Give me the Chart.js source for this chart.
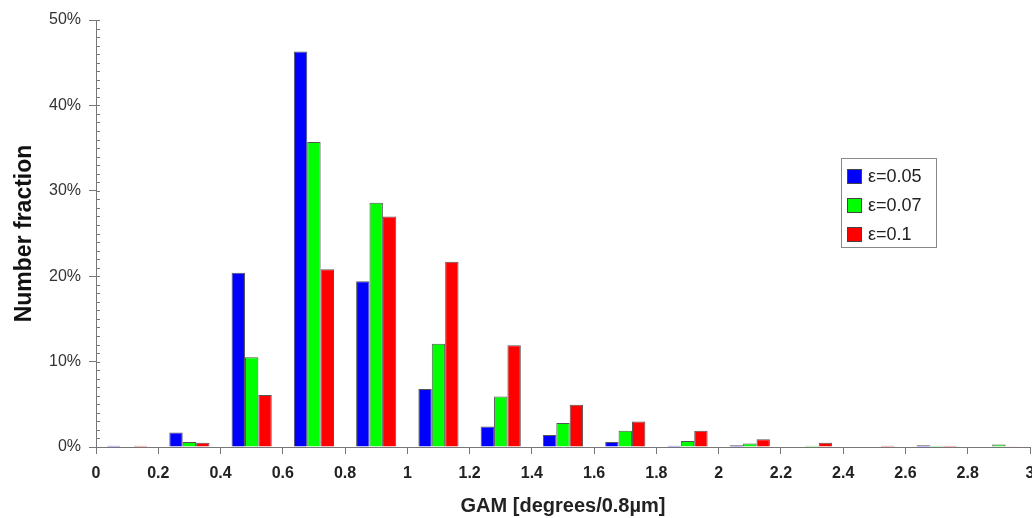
<!DOCTYPE html>
<html>
<head>
<meta charset="utf-8">
<script src="https://cdn.jsdelivr.net/npm/chart.js@4.4.1/dist/chart.umd.min.js"></script>
<style>
    body { margin: 0; background: #fff; }
    #wrap { width: 1032px; height: 518px; position: relative; }
</style>
</head>
<body>
<div id="wrap"><canvas id="chart"></canvas></div>
<script>
// bin centres (GAM, degrees/0.8um) and number fraction in %
var binCentres = [0.1, 0.3, 0.5, 0.7, 0.9, 1.1, 1.3, 1.5, 1.7, 1.9, 2.1, 2.3, 2.5, 2.7, 2.9];
var eps005 = [0.15, 1.7, 20.4, 46.3, 19.4, 6.8, 2.4, 1.4, 0.6, 0.15, 0.2, 0, 0, 0.2, 0];
var eps007 = [0, 0.6, 10.5, 35.7, 28.6, 12.1, 5.9, 2.8, 1.9, 0.7, 0.4, 0.15, 0, 0.15, 0.3];
var eps01 = [0.15, 0.5, 6.1, 20.8, 27.0, 21.7, 11.9, 4.95, 3.0, 1.9, 0.9, 0.5, 0.15, 0.15, 0.1];
var seriesLabels = ['ε=0.05', 'ε=0.07', 'ε=0.1'];
var xTicks = [0, 0.2, 0.4, 0.6, 0.8, 1, 1.2, 1.4, 1.6, 1.8, 2, 2.2, 2.4, 2.6, 2.8, 3];
var yTicks = [0, 10, 20, 30, 40, 50];

var font = "'Liberation Sans', Arial, sans-serif";

function points(values) {
    return binCentres.map(function(x, i) { return { x: x, y: values[i] }; });
}

// minor ticks on y axis (1% steps), drawn inside the plot
var axisExtras = {
    id: 'axisExtras',
    afterDraw: function(chart) {
        var ctx = chart.ctx;
        var y = chart.scales.y;
        var left = chart.chartArea.left;
        ctx.save();
        ctx.strokeStyle = '#777';
        ctx.lineWidth = 1;
        for (var v = 0; v <= 50; v++) {
            var py = Math.round(y.getPixelForValue(v)) + 0.5;
            ctx.beginPath();
            ctx.moveTo(left, py);
            ctx.lineTo(left + 4, py);
            ctx.stroke();
        }
        ctx.restore();
    }
};

// legend box placed inside the plot like the original
var boxLegend = {
    id: 'boxLegend',
    afterDraw: function(chart) {
        var ctx = chart.ctx;
        var x0 = 841, y0 = 158, w = 95, h = 89;
        ctx.save();
        ctx.fillStyle = '#fff';
        ctx.fillRect(x0, y0, w, h);
        ctx.strokeStyle = '#888';
        ctx.lineWidth = 1;
        ctx.strokeRect(x0 + 0.5, y0 + 0.5, w, h);
        var rows = [176, 205, 234];
        chart.data.datasets.forEach(function(ds, i) {
            ctx.fillStyle = ds.backgroundColor;
            ctx.fillRect(847, rows[i] - 7, 14, 14);
            ctx.strokeStyle = '#444';
            ctx.strokeRect(847.5, rows[i] - 6.5, 14, 14);
            ctx.fillStyle = '#222';
            ctx.font = '18px ' + font;
            ctx.textBaseline = 'middle';
            ctx.fillText(ds.label, 868, rows[i] + 1);
        });
        ctx.restore();
    }
};

var ctx = document.getElementById('chart');
var chart = new Chart(ctx, {
    type: 'bar',
    data: {
        datasets: [{
            label: seriesLabels[0],
            data: points(eps005),
            backgroundColor: '#0000ff',
            borderColor: '#555',
            borderWidth: 1
        }, {
            label: seriesLabels[1],
            data: points(eps007),
            backgroundColor: '#00ff00',
            borderColor: '#555',
            borderWidth: 1
        }, {
            label: seriesLabels[2],
            data: points(eps01),
            backgroundColor: '#ff0000',
            borderColor: '#555',
            borderWidth: 1
        }]
    },
    options: {
        responsive: true,
        maintainAspectRatio: false,
        animation: false,
        categoryPercentage: 0.645,
        barPercentage: 1,
        layout: { padding: { top: 20, right: 2, left: 0, bottom: 0 } },
        plugins: {
            legend: { display: false },
            tooltip: { enabled: false }
        },
        scales: {
            x: {
                type: 'linear',
                min: 0,
                max: 3,
                offset: false,
                afterBuildTicks: function(scale) {
                    scale.ticks = xTicks.map(function(v) { return { value: v }; });
                },
                afterFit: function(scale) {
                    scale.height = 71;
                    scale.paddingLeft = 0;
                    scale.paddingRight = 0;
                },
                grid: { display: true, offset: false, drawOnChartArea: false, tickLength: 7, color: '#777' },
                border: { display: true, color: '#777', width: 1 },
                ticks: {
                    autoSkip: false,
                    maxRotation: 0,
                    padding: 10,
                    color: '#222',
                    font: { family: font, size: 16, weight: 'bold' },
                    callback: function(v) { return String(Math.round(v * 10) / 10); }
                },
                title: {
                    display: true,
                    text: 'GAM [degrees/0.8µm]',
                    color: '#222',
                    font: { family: font, size: 20, weight: 'bold' },
                    padding: { top: 12, bottom: 0 }
                }
            },
            y: {
                min: 0,
                max: 50,
                afterBuildTicks: function(scale) {
                    scale.ticks = yTicks.map(function(v) { return { value: v }; });
                },
                afterFit: function(scale) {
                    scale.width = 96;
                    scale.paddingTop = 0;
                    scale.paddingBottom = 0;
                },
                grid: { display: true, drawOnChartArea: false, tickLength: 7, color: '#777' },
                border: { display: true, color: '#777', width: 1 },
                ticks: {
                    padding: 8,
                    color: '#333',
                    font: { family: font, size: 16 },
                    callback: function(v) { return v + '%'; }
                },
                title: {
                    display: true,
                    text: 'Number fraction',
                    color: '#111',
                    font: { family: font, size: 23, weight: 'bold' },
                    padding: { top: 11, bottom: 0 }
                }
            }
        }
    },
    plugins: [axisExtras, boxLegend]
});
</script>
</body>
</html>
